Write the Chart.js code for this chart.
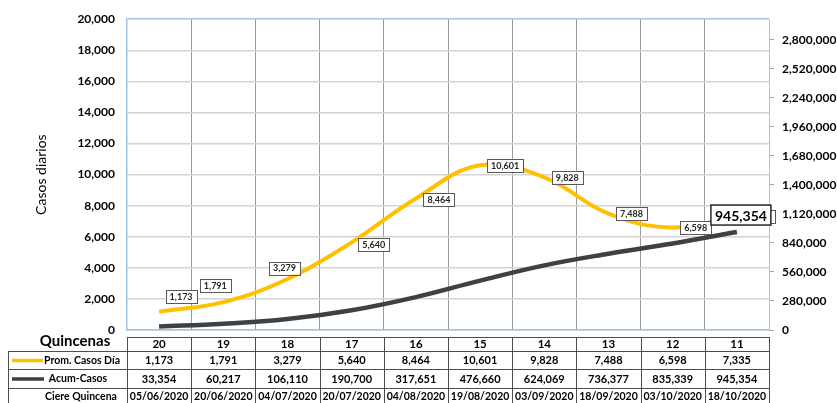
<!DOCTYPE html>
<html>
<head>
<meta charset="utf-8">
<script src="https://cdn.jsdelivr.net/npm/chart.js@4.4.1/dist/chart.umd.min.js"></script>
<style>
  html, body { margin: 0; padding: 0; background: #fff; }
  #wrap { width: 837px; height: 403px; position: relative; }
</style>
</head>
<body>
<div id="wrap"><canvas id="chart"></canvas></div>
<script>
// data
const quincenas = ['20', '19', '18', '17', '16', '15', '14', '13', '12', '11'];
const promCasosDia = [1173, 1791, 3279, 5640, 8464, 10601, 9828, 7488, 6598, 7335];
const acumCasos = [33354, 60217, 106110, 190700, 317651, 476660, 624069, 736377, 835339, 945354];
const cierreQuincena = ['05/06/2020', '20/06/2020', '04/07/2020', '20/07/2020', '04/08/2020',
  '19/08/2020', '03/09/2020', '18/09/2020', '03/10/2020', '18/10/2020'];
const acumTicks = [0, 280000, 560000, 840000, 1120000, 1400000, 1680000, 1960000, 2240000, 2520000, 2800000];

// label placement (pixel nudges from each point)
const labelDx = [22, -8, -3, 22, 23, 25, 23, 23, 23, 23];
const labelDy = [-15, -17, -11, 2, 1, 0, 0, 0, 0, 0];

const FONT = "Lato, 'Open Sans', sans-serif";
const YELLOW = '#FFC000';
const DARK = '#404040';
const fmt = v => v.toLocaleString('en-US');

const labelsPlugin = {
  id: 'boxLabels',
  afterDatasetsDraw(chart) {
    const ctx = chart.ctx;
    const meta0 = chart.getDatasetMeta(0);
    const meta1 = chart.getDatasetMeta(1);
    ctx.save();
    ctx.textAlign = 'center';
    ctx.textBaseline = 'middle';
    ctx.font = 'bold 9px ' + FONT;
    meta0.data.forEach((pt, i) => {
      const txt = fmt(promCasosDia[i]);
      const cx = pt.x + labelDx[i], cy = pt.y + labelDy[i];
      const w = ctx.measureText(txt).width + 8, h = 13;
      ctx.fillStyle = '#fff';
      ctx.fillRect(cx - w / 2, cy - h / 2, w, h);
      ctx.strokeStyle = '#595959';
      ctx.lineWidth = 1;
      ctx.strokeRect(Math.round(cx - w / 2) + 0.5, Math.round(cy - h / 2) + 0.5, Math.round(w), h);
      ctx.fillStyle = '#262626';
      ctx.fillText(txt, cx, cy + 0.5);
    });
    // last cumulative value, larger box
    const last = meta1.data[meta1.data.length - 1];
    const txt = fmt(acumCasos[acumCasos.length - 1]);
    ctx.font = 'bold 14px ' + FONT;
    const cx = last.x + 4, cy = last.y - 17;
    const w = ctx.measureText(txt).width + 8, h = 20;
    ctx.fillStyle = '#fff';
    ctx.fillRect(cx - w / 2, cy - h / 2, w, h);
    ctx.strokeStyle = '#262626';
    ctx.lineWidth = 1.5;
    ctx.strokeRect(cx - w / 2, cy - h / 2, w, h);
    ctx.fillStyle = '#000';
    ctx.fillText(txt, cx, cy + 1);
    ctx.restore();
  }
};

const tablePlugin = {
  id: 'dataTable',
  afterDraw(chart) {
    const ctx = chart.ctx;
    const x = chart.scales.x;
    const area = chart.chartArea;
    const colW = (area.right - area.left) / quincenas.length;
    const rows = [337, 351, 369, 388, 405];
    const headL = 8;
    ctx.save();
    ctx.strokeStyle = '#4d4d4d';
    ctx.lineWidth = 1;
    // horizontal lines
    ctx.beginPath();
    ctx.moveTo(area.left, rows[0] + 0.5);
    ctx.lineTo(area.right, rows[0] + 0.5);
    for (let r = 1; r < rows.length; r++) {
      ctx.moveTo(headL, rows[r] + 0.5);
      ctx.lineTo(area.right, rows[r] + 0.5);
    }
    // vertical lines
    for (let c = 0; c <= quincenas.length; c++) {
      const px = Math.round(area.left + c * colW) + 0.5;
      ctx.moveTo(px, rows[0]);
      ctx.lineTo(px, rows[4]);
    }
    ctx.moveTo(headL + 0.5, rows[1]);
    ctx.lineTo(headL + 0.5, rows[4]);
    ctx.stroke();

    ctx.textAlign = 'center';
    ctx.textBaseline = 'middle';
    ctx.fillStyle = '#000';
    const mid = r => (rows[r] + rows[r + 1]) / 2 + 0.5;
    quincenas.forEach((q, i) => {
      const cx = x.getPixelForValue(i);
      ctx.font = 'bold 11.5px ' + FONT;
      ctx.fillText(q, cx, mid(0));
      ctx.font = 'bold 11px ' + FONT;
      ctx.fillText(fmt(promCasosDia[i]), cx, mid(1));
      ctx.fillText(fmt(acumCasos[i]), cx, mid(2));
      ctx.font = 'bold 10.5px ' + FONT;
      ctx.fillText(cierreQuincena[i], cx, mid(3));
    });

    // row headers with legend keys
    ctx.font = 'bold 10.5px ' + FONT;
    ctx.fillText('Prom. Casos Día', 82, mid(1));
    ctx.fillText('Acum-Casos', 78, mid(2));
    ctx.fillText('Ciere Quincena', 81, mid(3));
    ctx.lineWidth = 3.5;
    ctx.strokeStyle = YELLOW;
    ctx.beginPath();
    ctx.moveTo(12, mid(1));
    ctx.lineTo(43, mid(1));
    ctx.stroke();
    ctx.strokeStyle = DARK;
    ctx.beginPath();
    ctx.moveTo(12, mid(2));
    ctx.lineTo(44, mid(2));
    ctx.stroke();

    ctx.font = 'bold 15px ' + FONT;
    ctx.fillText('Quincenas', 75, 341);
    ctx.restore();
  }
};

new Chart(document.getElementById('chart'), {
  type: 'line',
  data: {
    labels: quincenas,
    datasets: [{
      label: 'Prom. Casos Día',
      data: promCasosDia,
      borderColor: YELLOW,
      borderWidth: 4,
      pointRadius: 0,
      tension: 0.4,
      yAxisID: 'y'
    }, {
      label: 'Acum-Casos',
      data: acumCasos,
      borderColor: DARK,
      borderWidth: 4.5,
      pointRadius: 0,
      tension: 0.4,
      yAxisID: 'y1'
    }]
  },
  options: {
    responsive: true,
    maintainAspectRatio: false,
    animation: false,
    layout: { padding: { top: 16, left: 0, right: 0, bottom: 0 } },
    plugins: {
      legend: { display: false },
      tooltip: { enabled: false }
    },
    scales: {
      x: {
        offset: true,
        grid: {
          offset: true,
          drawTicks: false,
          color: c => (c.index === 0 || c.index === quincenas.length) ? 'rgba(0,0,0,0)' : '#9a9a9a',
          lineWidth: 1
        },
        border: { color: '#9dc3e6', width: 1.5 },
        ticks: { display: false },
        afterFit: s => { s.height = 73; }
      },
      y: {
        min: 0,
        max: 20000,
        ticks: {
          stepSize: 2000,
          padding: 12,
          color: '#000',
          font: { family: FONT, size: 12, weight: 'bold' },
          callback: v => fmt(v)
        },
        grid: {
          drawTicks: false,
          color: c => c.tick.value === 20000 ? '#9dc3e6' : '#d4d4d4',
          lineWidth: 1.5
        },
        border: { color: '#9dc3e6', width: 1.5 },
        title: {
          display: true,
          text: 'Casos diarios',
          color: '#000',
          font: { family: FONT, size: 14 },
          padding: { top: 33 }
        },
        afterFit: s => { s.width = 127; }
      },
      y1: {
        position: 'right',
        min: 0,
        max: 3000000,
        ticks: {
          autoSkip: false,
          padding: 8,
          color: '#000',
          font: { family: FONT, size: 12, weight: 'bold' },
          callback: v => fmt(v)
        },
        afterBuildTicks: s => {
          s.ticks = acumTicks.map(v => ({ value: v }));
        },
        grid: {
          drawOnChartArea: false,
          tickLength: 5,
          color: '#a6a6a6'
        },
        border: { color: '#bfbfbf', width: 1 },
        afterFit: s => { s.width = 68; }
      }
    }
  },
  plugins: [labelsPlugin, tablePlugin]
});
</script>
</body>
</html>
